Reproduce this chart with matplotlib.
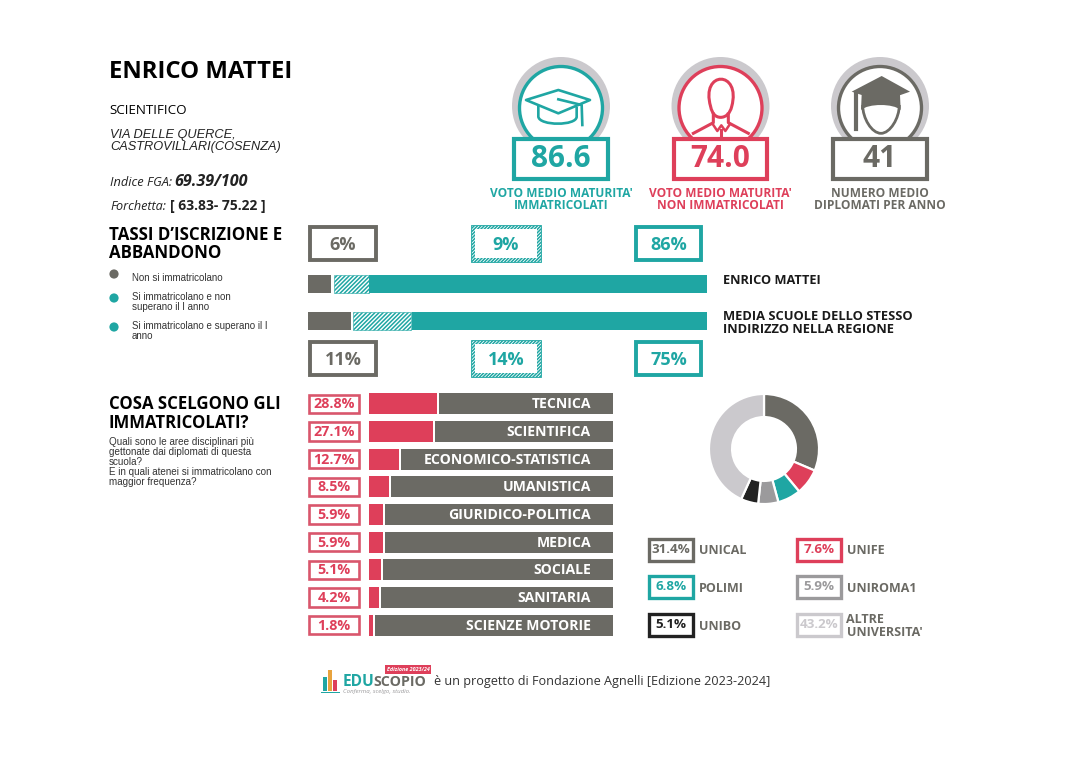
import matplotlib
matplotlib.use("Agg")
import matplotlib.pyplot as plt
from matplotlib.patches import Rectangle, Circle, Polygon, PathPatch
from matplotlib.path import Path

GRAY = "#6b6a64"
RED = "#de3f5a"
TEAL = "#1fa6a3"
MID = "#9b9a9c"
BLACK = "#222222"
LIGHT = "#cbc9cd"
W, H = 1080, 758

school_rates = [6, 9, 86]
region_rates = [11, 14, 75]
# bar lengths as drawn in the picture, the labels above are rounded
school_bar = [5.8, 9.5, 84.7]
region_bar = [10.8, 15.2, 74.0]
rate_labels = ["ENRICO MATTEI", "MEDIA SCUOLE DELLO STESSO\nINDIRIZZO NELLA REGIONE"]

areas = ["TECNICA", "SCIENTIFICA", "ECONOMICO-STATISTICA", "UMANISTICA", "GIURIDICO-POLITICA",
         "MEDICA", "SOCIALE", "SANITARIA", "SCIENZE MOTORIE"]
area_pct = [28.8, 27.1, 12.7, 8.5, 5.9, 5.9, 5.1, 4.2, 1.8]

unis = ["UNICAL", "UNIFE", "POLIMI", "UNIROMA1", "UNIBO", "ALTRE\nUNIVERSITA'"]
uni_pct = [31.4, 7.6, 6.8, 5.9, 5.1, 43.2]
uni_colors = [GRAY, RED, TEAL, MID, BLACK, LIGHT]

plt.rcParams["font.family"] = ["Open Sans", "DejaVu Sans"]
plt.rcParams["hatch.linewidth"] = 1.1

fig = plt.figure(figsize=(W / 100, H / 100), dpi=100, facecolor="white")


def px_axes(x0, y0, x1, y1, **kw):
    return fig.add_axes([x0 / W, 1 - y1 / H, (x1 - x0) / W, (y1 - y0) / H], **kw)


# stacked bars
ax_rates = px_axes(308, 270, 707, 335)
ax_rates.axis("off")
ax_rates.set_xlim(0, 100)
ax_rates.set_ylim(65, 0)
for vals, yc in [(school_bar, 14), (region_bar, 51)]:
    a, b, c = vals
    ax_rates.barh(yc, a, height=18, color=GRAY)
    ax_rates.barh(yc, b - 0.7, left=a + 0.6, height=18, facecolor="white", edgecolor=TEAL,
                  hatch="////////", linewidth=0.4)
    ax_rates.barh(yc, c, left=a + b, height=18, color=TEAL)

# area bars
ax_areas = px_axes(369, 390, 613, 639)
ax_areas.axis("off")
FULL = 103
ax_areas.set_xlim(0, FULL)
ax_areas.set_ylim(len(areas) - 0.5, -0.5)
for i, (name, val) in enumerate(zip(areas, area_pct)):
    ax_areas.barh(i, val, height=0.77, color=RED)
    ax_areas.barh(i, FULL - val - 0.9, left=val + 0.9, height=0.77, color=GRAY)
    ax_areas.text(93.7, i + 0.02, name, color="white", fontsize=10.1, fontweight="bold",
                  ha="right", va="center")

# donut
ax_pie = px_axes(704, 389, 824, 509)
ax_pie.pie(uni_pct, colors=uni_colors, startangle=90, counterclock=False, radius=1.0,
           wedgeprops=dict(width=0.42, edgecolor="white", linewidth=1.6))
ax_pie.set_xlim(-1.09, 1.09)
ax_pie.set_ylim(-1.09, 1.09)

# everything else lives on a pixel overlay
ov = px_axes(0, 0, W, H)
ov.set_xlim(0, W)
ov.set_ylim(H, 0)
ov.axis("off")
ov.patch.set_alpha(0)


def txt(x, y, s, size=9, color="black", weight="normal", ha="left", va="center", **kw):
    return ov.text(x, y, s, fontsize=size, color=color, fontweight=weight, ha=ha, va=va, **kw)


def box(x0, y0, x1, y1, color, lw=3.0, z=3):
    r = Rectangle((x0 + lw * 0.7, y0 + lw * 0.7), x1 - x0 - lw * 1.4, y1 - y0 - lw * 1.4,
                  facecolor="white", edgecolor=color, linewidth=lw, zorder=z)
    ov.add_patch(r)


def hatched_box(x0, y0, x1, y1, color):
    ov.add_patch(Rectangle((x0, y0), x1 - x0, y1 - y0, facecolor="white", edgecolor=color,
                           hatch="//////////", linewidth=0.6, zorder=3))
    ov.add_patch(Rectangle((x0 + 4, y0 + 4), x1 - x0 - 8, y1 - y0 - 8, facecolor="white",
                           edgecolor="none", zorder=3.1))


# left column text
txt(109, 72, "ENRICO MATTEI", size=17.2, weight="bold")
txt(109, 110, "SCIENTIFICO", size=9.6, weight="medium")
txt(110, 141, "VIA DELLE QUERCE,\nCASTROVILLARI(COSENZA)", size=9.15, style="italic",
    family="Liberation Sans", linespacing=1.02, color="#222222")
txt(110, 183, "Indice FGA:", size=9.2, style="italic", color="#222222")
txt(174, 182.5, "69.39/100", size=11.6, style="italic", weight="bold", color="#222222")
txt(110, 206, "Forchetta:", size=9.1, style="italic", color="#222222")
txt(170, 206, "[ 63.83- 75.22 ]", size=10, weight="bold", color="#222222")
txt(109, 244, "TASSI D’ISCRIZIONE E\nABBANDONO", size=12.2, weight="bold", linespacing=1.03)

for yc, yt, col, s in [(274, 278, GRAY, "Non si immatricolano"),
                       (298, 302, TEAL, "Si immatricolano e non\nsuperano il I anno"),
                       (327, 331, TEAL, "Si immatricolano e superano il I\nanno")]:
    ov.add_patch(Circle((114, yc), 4.6, facecolor=col, edgecolor="none"))
    txt(132, yt, s, size=7, family="Liberation Sans", color="#333333", linespacing=1.05)

txt(109, 413.5, "COSA SCELGONO GLI\nIMMATRICOLATI?", size=12.1, weight="bold", linespacing=1.03)
txt(109, 462, "Quali sono le aree disciplinari più\ngettonate dai diplomati di questa\nscuola?\n"
    "E in quali atenei si immatricolano con\nmaggior frequenza?",
    size=7.1, family="Liberation Sans", color="#333333", linespacing=0.98)

# top badges
for cx, col, num, cap in [(561, TEAL, "86.6", "VOTO MEDIO MATURITA'\nIMMATRICOLATI"),
                          (720.5, RED, "74.0", "VOTO MEDIO MATURITA'\nNON IMMATRICOLATI"),
                          (880, GRAY, "41", "NUMERO MEDIO\nDIPLOMATI PER ANNO")]:
    ov.add_patch(Circle((cx, 106), 49, facecolor=LIGHT, edgecolor="none", zorder=1))
    ov.add_patch(Circle((cx, 108), 41.5, facecolor="white", edgecolor=col, linewidth=2.4, zorder=1.1))
    box(cx - 49, 137, cx + 49, 181, col, lw=3.0)
    txt(cx, 159, num, size=21.5, color=col, weight="bold", ha="center", zorder=4)
    txt(cx, 199.5, cap, size=8.6, color=col, weight="bold", ha="center", linespacing=0.98)


def zp(points):
    return [(480 + x / 3, 50 + y / 3) for x, y in points]


M, L, C = Path.MOVETO, Path.LINETO, Path.CURVE4

# graduate cap, teal
ic = dict(facecolor="none", edgecolor=TEAL, linewidth=1.9, zorder=2, joinstyle="round")
ov.add_patch(PathPatch(Path(zp([(175, 165), (175, 200), (178, 228), (290, 228), (290, 200), (290, 170)]),
                            [M, L, C, C, C, L]), **ic))
ov.add_patch(Polygon(zp([(138, 150), (235, 120), (330, 150), (235, 190)]), closed=True,
                     facecolor="white", edgecolor=TEAL, linewidth=1.9, zorder=2.1, joinstyle="round"))
ov.plot(*zip(*zp([(235, 148), (305, 165), (307, 225)])), color=TEAL, lw=1.9, zorder=2.2)

# person, red
ir = dict(facecolor="none", edgecolor=RED, linewidth=2.2, zorder=2)
ov.add_patch(PathPatch(Path(zp([(692, 170), (660, 60), (785, 60), (755, 170),
                                (750, 190), (738, 202), (722, 202),
                                (706, 202), (696, 190), (692, 170)]),
                            [M, C, C, C, C, C, C, C, C, C]), **ir))
ov.plot(*zip(*zp([(700, 192), (700, 218), (640, 250)])), color=RED, lw=2.2, zorder=2)
ov.plot(*zip(*zp([(745, 192), (745, 218), (805, 250)])), color=RED, lw=2.2, zorder=2)
ov.plot(*zip(*zp([(698, 222), (712, 243), (724, 226), (736, 243), (750, 222)])), color=RED, lw=1.8, zorder=2)
ov.plot(*zip(*zp([(724, 240), (724, 262)])), color=RED, lw=2.2, zorder=2)

# capped head, gray
ov.add_patch(PathPatch(Path(zp([(1148, 165), (1148, 205), (1175, 250), (1203, 250),
                                (1230, 250), (1258, 205), (1258, 165)]),
                            [M, C, C, C, C, C, C]),
                       facecolor="white", edgecolor=GRAY, linewidth=2.0, zorder=2))
ov.add_patch(PathPatch(Path(zp([(1145, 135), (1260, 135), (1262, 180), (1240, 160), (1165, 160), (1143, 180), (1145, 135)]),
                            [M, L, L, C, C, C, L]),
                       facecolor=GRAY, edgecolor="none", zorder=2.1))
ov.add_patch(Polygon(zp([(1115, 125), (1205, 78), (1290, 125), (1205, 155)]), closed=True,
                     facecolor=GRAY, edgecolor="none", zorder=2.2))
ov.plot(*zip(*zp([(1127, 130), (1127, 238)])), color=GRAY, lw=3.0, zorder=2.2)

# rate boxes
rate_cols = [GRAY, TEAL, TEAL]
for (y0, y1), vals in [((225, 262), school_rates), ((340, 377), region_rates)]:
    for (x0, x1), v, col in zip([(308, 378), (471, 541), (634, 703)], vals, rate_cols):
        if x0 == 471:
            hatched_box(x0, y0, x1, y1, col)
        else:
            box(x0, y0, x1, y1, col, lw=2.8)
        txt((x0 + x1) / 2, (y0 + y1) / 2 + 1.5, f"{v}%", size=13, color=col, weight="bold", ha="center", zorder=4)

txt(723, 281, rate_labels[0], size=9.2, weight="bold", color="#1a1a1a")
txt(723, 323, rate_labels[1], size=9.3, weight="bold", color="#1a1a1a", linespacing=0.98)

# area pct boxes
row_h = 249 / len(areas)
for i, v in enumerate(area_pct):
    yc = 390 + row_h * (i + 0.5)
    box(308, yc - 10.5, 360, yc + 10.5, "#d9566c", lw=1.9)
    txt(334, yc + 0.5, f"{v}%", size=10.3, color=RED, weight="bold", ha="center", zorder=4)

# university legend
slots = [(647, 537), (795, 537), (647, 574), (795, 574), (647, 612), (795, 612)]
for (x0, y0), name, v, col in zip(slots, unis, uni_pct, uni_colors):
    box(x0, y0, x0 + 48, y0 + 26, col, lw=2.4)
    txt(x0 + 24, y0 + 12.5, f"{v}%", size=9.6, color=col, weight="bold", ha="center", zorder=4)
    txt(x0 + 51.5, y0 + 14, name, size=9, color=GRAY, weight="bold", linespacing=0.98)

# footer logo
logo_bars = [(323, 677, 4, 14, TEAL), (328, 670, 4, 21, "#e8a33d"), (333, 680, 4, 11, RED)]
for x, y, w, h, col in logo_bars:
    ov.add_patch(Rectangle((x, y), w, h, facecolor=col, edgecolor="none"))
ov.add_patch(Rectangle((321, 692), 19, 1.2, facecolor=TEAL, edgecolor="none"))
txt(343, 682, "EDU", size=11.2, color=TEAL, weight="bold")
txt(373, 682, "SCOPIO", size=10.2, color=GRAY, weight="bold")
ov.add_patch(Rectangle((385, 665), 46, 8.5, facecolor=RED, edgecolor="none"))
txt(408, 669.3, "Edizione 2023/24", size=3.9, color="white", weight="bold", style="italic", ha="center")
txt(343, 691.5, "Conferma, scelgo, studio.", size=4.4, color=MID, style="italic")
txt(433.5, 681, "è un progetto di Fondazione Agnelli [Edizione 2023-2024]", size=9.1, color="#333333")

fig.savefig("out.png", dpi=100, facecolor="white")
